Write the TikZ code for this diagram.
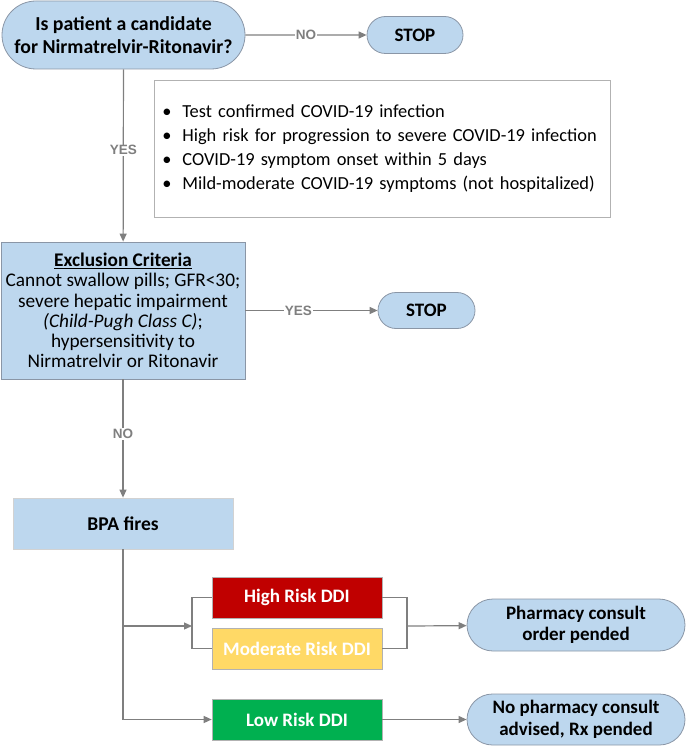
\documentclass[tikz,border=0pt]{standalone}
\usepackage{fontspec}
\setmainfont{Carlito}
\newfontfamily\lblfont{Liberation Sans}
\usetikzlibrary{shapes.misc,arrows.meta}
\definecolor{paleblue}{HTML}{BDD7EE}
\definecolor{edgegray}{HTML}{8A96A6}
\definecolor{linegray}{HTML}{7F7F7F}
\definecolor{highred}{HTML}{C00000}
\definecolor{modyellow}{HTML}{FFD966}
\definecolor{lowgreen}{HTML}{00B050}
\begin{document}
\begin{tikzpicture}[x=1pt,y=-1pt,
  pill/.style={rounded rectangle, draw=edgegray, fill=paleblue, line width=0.8pt,
    align=center, font=\fontsize{19}{21}\selectfont\bfseries, inner sep=0pt},
  bluebox/.style={rectangle, draw=edgegray, fill=paleblue, line width=0.8pt,
    align=center, inner sep=0pt},
  ddibox/.style={rectangle, draw=gray!60, line width=0.6pt, minimum width=170, minimum height=41,
    inner sep=0pt, text=white, font=\fontsize{19}{21}\selectfont\bfseries},
  flow/.style={draw=linegray, line width=1.2pt, -{Triangle[width=7pt,length=8pt]}},
  plain/.style={draw=linegray, line width=1.2pt},
  lbl/.style={fill=white, text=linegray, inner sep=1pt, font=\lblfont\fontsize{13.5}{14}\selectfont\bfseries}]
\useasboundingbox (0,0) rectangle (685,746);
\node[pill, minimum width=243, minimum height=68, font=\fontsize{19.8}{22.5}\selectfont\bfseries] (q) at (123.5,35)
  {Is patient a candidate\\for Nirmatrelvir-Ritonavir?};
\node[pill, minimum width=96, minimum height=37] (stop1) at (415,35) {STOP};
\node[draw=gray!60, line width=0.8pt, anchor=north west, text width=440, inner xsep=8,
  minimum height=137, align=left, font=\fontsize{18.4}{24}\selectfont] (crit) at (154,80)
  {\makebox[20pt][l]{\textbullet}Test confirmed COVID-19 infection\\
   \makebox[20pt][l]{\textbullet}High risk for progression to severe COVID-19 infection\\
   \makebox[20pt][l]{\textbullet}COVID-19 symptom onset within 5 days\\
   \makebox[20pt][l]{\textbullet}Mild-moderate COVID-19 symptoms (not hospitalized)};
\node[bluebox, minimum width=244, minimum height=137, font=\fontsize{19.3}{20.3}\selectfont] (excl) at (123,310.5)
  {\underline{\textbf{Exclusion Criteria}}\\Cannot swallow pills; GFR<30;\\severe hepatic impairment\\
   \textit{(Child-Pugh Class C)};\\hypersensitivity to\\Nirmatrelvir or Ritonavir};
\node[pill, minimum width=97, minimum height=36] (stop2) at (426.5,310.5) {STOP};
\node[bluebox, draw=gray!35, minimum width=220, minimum height=51,
  font=\fontsize{19.5}{21}\selectfont\bfseries] (bpa) at (123,523.5) {BPA fires};
\node[ddibox, fill=highred] (high) at (297,597.5) {High Risk DDI};
\node[ddibox, fill=modyellow] (mod) at (297,648.5) {Moderate Risk DDI};
\node[ddibox, fill=lowgreen] (low) at (297,719.5) {Low Risk DDI};
\node[pill, minimum width=218, minimum height=52, font=\fontsize{19}{21.5}\selectfont\bfseries] (pharm) at (576,625)
  {Pharmacy consult\\order pended};
\node[pill, minimum width=218, minimum height=51, font=\fontsize{19}{21.5}\selectfont\bfseries] (nopharm) at (576,719.5)
  {No pharmacy consult\\advised, Rx pended};
\coordinate (split) at (123,626);
\coordinate (joinL) at (192,626);
\coordinate (joinR) at (407,626);
% decisions
\path[flow] (q) -- node[lbl] {NO} (stop1);
\path[flow] (q) -- node[lbl, pos=0.47] {YES} (excl);
\path[flow] (excl) -- node[lbl, pos=0.4] {YES} (stop2);
\path[flow] (excl) -- node[lbl, pos=0.46] {NO} (bpa);
% risk levels
\path[flow] (bpa) |- (low);
\path[flow] (split) -- (joinL);
\path[plain] (high.west) -| (joinL) |- (mod.west);
\path[plain] (high.east) -| (joinR) |- (mod.east);
\path[flow] (joinR) -- (pharm);
\path[flow] (low) -- (nopharm);
\end{tikzpicture}
\end{document}
